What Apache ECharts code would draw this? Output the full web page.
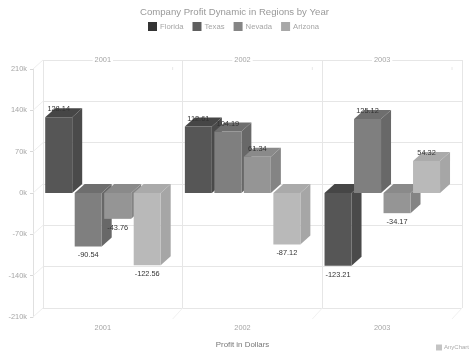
<!DOCTYPE html>
<html>
<head>
<meta charset="utf-8">
<style>
	html, body { margin:0; padding:0; background:#fff; }
	#main { width:474px; height:355px; }
</style>
<script src="https://cdn.jsdelivr.net/npm/echarts@6/dist/echarts.min.js"></script>
</head>
<body>
<div id="main"></div>
<script>
	var years = ['2001', '2002', '2003'];
	var yTicks = [-210, -140, -70, 0, 70, 140, 210];
	var boundaries = [1, 2, 3];

	var florida = [128.14, 112.61, -123.21];
	var texas = [-90.54, 104.19, 125.12];
	var nevada = [-43.76, 61.34, -34.17];
	var arizona = [-122.56, -87.12, 54.32];

	var names = ['Florida', 'Texas', 'Nevada', 'Arizona'];
	var legendColors = ['#333333', '#5f5f5f', '#858585', '#a8a8a8'];
	var frontColors = ['#565656', '#7f7f7f', '#959595', '#b9b9b9'];
	var sideColors = ['#4a4a4a', '#686868', '#848484', '#a6a6a6'];
	var topColors = ['#464646', '#6e6e6e', '#8a8a8a', '#aaaaaa'];

	var FONT = '"Liberation Sans", Arial, sans-serif';
	var DX = 10, DY = 9;        //depth of the fake 3d
	var BAR_W = 27, BAR_STEP = 29.5, BAR_PAD = 12.2;

	function renderBar(params, api) {
		var i = params.seriesIndex;
		var c = api.value(0), v = api.value(1);
		var band = api.size([1, 0])[0];
		var mid = api.coord([c, v]);
		var base = api.coord([c, 0])[1];
		var x = mid[0] - band / 2 + BAR_PAD + i * BAR_STEP;
		var y1 = Math.min(mid[1], base), y2 = Math.max(mid[1], base);
		var r = x + BAR_W;
		return {
			type: 'group',
			children: [
				{ type: 'polygon', shape: { points: [[r, y1], [r + DX, y1 - DY], [r + DX, y2 - DY], [r, y2]] }, style: { fill: sideColors[i] } },
				{ type: 'polygon', shape: { points: [[x, y1], [x + DX, y1 - DY], [r + DX, y1 - DY], [r, y1]] }, style: { fill: topColors[i] } },
				{ type: 'rect', shape: { x: x, y: y1, width: BAR_W, height: y2 - y1 }, style: { fill: frontColors[i] } },
				{
					type: 'text', z2: 100,
					style: {
						x: x + BAR_W / 2, y: v >= 0 ? y1 - 8 : y2 + 9,
						text: v.toFixed(2), fill: '#333', font: '7.4px ' + FONT,
						align: 'center', verticalAlign: 'middle'
					}
				}
			]
		};
	}

	function barSeries(i, values) {
		return {
			name: names[i],
			type: 'custom',
			xAxisIndex: 0,
			yAxisIndex: 0,
			z: 5,
			clip: false,
			itemStyle: { color: legendColors[i] },
			encode: { x: 0, y: 1 },
			data: values.map(function (v, c) { return [c, v]; }),
			renderItem: renderBar
		};
	}

	//diagonal lines joining the front axis to the back wall
	function renderDepthY(params, api) {
		var band = api.size([1, 0])[0];
		var p = api.coord([0, api.value(0)]);
		var x = p[0] - band / 2;
		return { type: 'line', shape: { x1: x, y1: p[1], x2: x + DX, y2: p[1] - DY }, style: { stroke: '#eeeeee', lineWidth: 1 } };
	}
	function renderDepthX(params, api) {
		var band = api.size([1, 0])[0];
		var low = api.coord([0, -210]);
		var high = api.coord([0, 210]);
		var x = low[0] - band / 2 + api.value(0) * band;
		return {
			type: 'group',
			children: [
				{ type: 'line', shape: { x1: x, y1: low[1] + 2, x2: x + DX, y2: low[1] - DY }, style: { stroke: '#f1f1f1', lineWidth: 1 } },
				{ type: 'line', shape: { x1: x, y1: high[1] - 2, x2: x, y2: high[1] + 1 }, style: { stroke: '#e8e8e8', lineWidth: 1 } }
			]
		};
	}

	var chart = echarts.init(document.getElementById('main'));
	chart.setOption({
		animation: false,
		backgroundColor: '#ffffff',
		title: {
			text: 'Company Profit Dynamic in Regions by Year',
			left: 140,
			top: 7,
			padding: 0,
			textStyle: { color: '#999', fontFamily: FONT, fontWeight: 'normal', fontSize: 9.6 }
		},
		legend: {
			data: names,
			left: 148,
			top: 22,
			itemWidth: 9,
			itemHeight: 9,
			itemGap: 9,
			icon: 'rect',
			selectedMode: false,
			padding: 0,
			textStyle: { color: '#a6a6a6', fontFamily: FONT, fontSize: 7.7, padding: [0, 0, 0, -2] }
		},
		grid: [
			{ left: 33, top: 69, width: 419, height: 248 },
			{ left: 43, top: 60, width: 419, height: 248 }
		],
		xAxis: [
			{
				type: 'category', gridIndex: 0, data: years, position: 'bottom',
				axisLine: { show: false }, axisTick: { show: false },
				axisLabel: { color: '#a6a6a6', fontFamily: FONT, fontSize: 7.4, margin: 7 },
				name: 'Profit in Dollars', nameLocation: 'middle', nameGap: 24,
				nameTextStyle: { color: '#777', fontFamily: FONT, fontSize: 7.9 }
			},
			{
				type: 'category', gridIndex: 1, data: years, position: 'bottom',
				axisLine: { show: false }, axisTick: { show: false }, axisLabel: { show: false },
				splitLine: { show: true, lineStyle: { color: '#e6e6e6', width: 1 } }
			},
			{
				type: 'category', gridIndex: 0, data: years, position: 'top',
				axisLine: { show: false }, axisTick: { show: false },
				z: 4,
				axisLabel: { color: '#a6a6a6', fontFamily: FONT, fontSize: 7.4, margin: 6, backgroundColor: '#fff', padding: [0, 2, 0, 2] }
			}
		],
		yAxis: [
			{
				type: 'value', gridIndex: 0, min: -210, max: 210, interval: 70,
				axisLine: { show: true, lineStyle: { color: '#e0e0e0' } },
				axisTick: { show: true, length: 3, lineStyle: { color: '#d8d8d8' } },
				splitLine: { show: false },
				axisLabel: { color: '#a6a6a6', fontFamily: FONT, fontSize: 7.4, margin: 6, formatter: '{value}k' }
			},
			{
				type: 'value', gridIndex: 1, min: -210, max: 210, interval: 70,
				axisLine: { show: false }, axisTick: { show: false }, axisLabel: { show: false },
				splitLine: { show: true, lineStyle: { color: '#e6e6e6', width: 1 } }
			}
		],
		series: [
			barSeries(0, florida), barSeries(1, texas), barSeries(2, nevada), barSeries(3, arizona),
			{
				type: 'custom', xAxisIndex: 0, yAxisIndex: 0, z: 1, silent: true, clip: false,
				data: yTicks.map(function (t) { return [t]; }), encode: { y: 0 }, renderItem: renderDepthY
			},
			{
				type: 'custom', xAxisIndex: 0, yAxisIndex: 0, z: 1, silent: true, clip: false,
				data: boundaries.map(function (b) { return [b]; }), encode: { x: 0 }, renderItem: renderDepthX
			}
		],
		graphic: [
			{
				type: 'group', left: 436, top: 344,
				children: [
					{ type: 'rect', shape: { x: 0, y: 1, width: 6, height: 6 }, style: { fill: '#c4c4c4' } },
					{ type: 'text', x: 8, y: 0.5, style: { text: 'AnyChart', fill: '#aaa', font: '6px ' + FONT } }
				]
			}
		]
	});
</script>
</body>
</html>
